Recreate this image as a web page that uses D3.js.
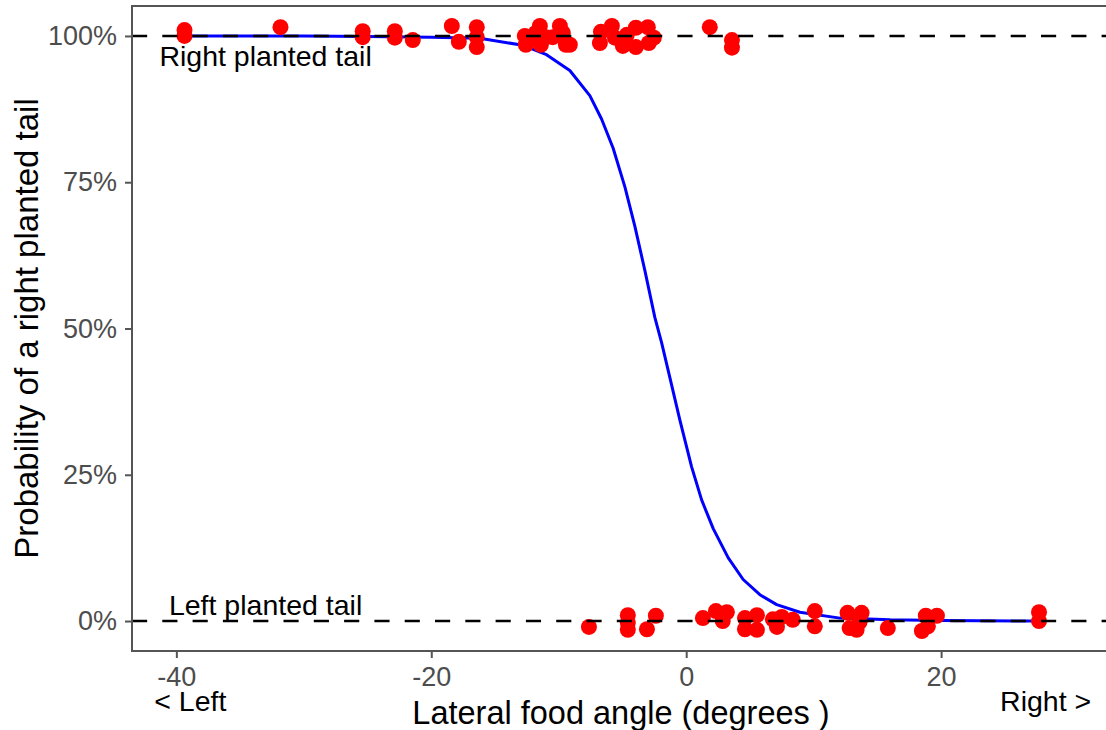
<!DOCTYPE html>
<html>
<head>
<meta charset="utf-8">
<script src="https://cdn.jsdelivr.net/npm/d3@7"></script>
<style>
  html, body { margin: 0; padding: 0; background: #fff; }
  svg { display: block; font-family: "Liberation Sans", Arial, sans-serif; }
</style>
</head>
<body>
<svg id="chart" width="1106" height="730"></svg>
<script>
// Observed turns: lateral food angle (degrees) and jittered outcome (1 = right planted tail)
const rightAngles = [-39.36, -39.36, -31.83, -25.38, -25.38, -22.86, -22.86, -21.45, -18.39, -17.84,
  -16.43, -16.43, -16.43, -12.66, -12.58, -12.19, -11.80, -11.48, -11.40, -11.01,
  -10.46, -9.91, -9.68, -9.44, -9.13, -6.77, -6.69, -5.83, -5.59, -4.97,
  -4.66, -3.95, -3.95, -3.01, -2.93, -2.54, 1.85, 3.59, 3.59];
const rightValues = [1.010, 1.000, 1.015, 1.008, 0.998, 1.008, 0.997, 0.993, 1.017, 0.990,
  1.015, 0.998, 0.981, 1.000, 0.985, 0.993, 1.005, 1.017, 0.985, 0.998,
  0.998, 1.017, 1.005, 0.985, 0.985, 0.988, 1.007, 1.017, 0.997, 0.983,
  1.002, 0.981, 1.014, 1.015, 0.988, 0.997, 1.015, 0.993, 0.980];

const leftAngles = [-7.63, -4.58, -4.58, -4.58, -3.08, -2.38, 1.31, 2.33, 3.19, 2.87,
  4.61, 4.61, 5.55, 5.55, 6.80, 7.12, 7.50, 8.36, 10.09, 10.09,
  12.66, 12.82, 13.37, 13.76, 13.60, 15.82, 18.49, 18.80, 19.67, 18.96,
  27.68, 27.68];
const leftValues = [-0.010, 0.010, -0.003, -0.015, -0.014, 0.009, 0.005, 0.017, 0.015, 0.000,
  0.005, -0.014, 0.010, -0.015, 0.003, -0.010, 0.007, 0.002, 0.017, -0.009,
  0.014, -0.012, -0.015, 0.014, -0.002, -0.012, -0.017, 0.009, 0.009, -0.009,
  0.015, 0.000];

// Fitted logistic curve (probability of a right planted tail)
const fitAngles = [-39.4, -30, -25, -20, -16.2, -12.8, -10.96, -9.13, -7.56, -6.64,
  -5.73, -4.81, -4.03, -3.24, -2.46, -1.93, -1.28, -0.49, 0.42, 1.21,
  2.12, 3.30, 4.47, 5.78, 7.10, 8.92, 12.06, 16, 20, 27.7];
const fitProbs = [1.000, 1.000, 0.999, 0.998, 0.996, 0.984, 0.968, 0.941, 0.898, 0.858,
  0.808, 0.742, 0.675, 0.599, 0.519, 0.476, 0.416, 0.343, 0.264, 0.207,
  0.158, 0.108, 0.071, 0.045, 0.028, 0.015, 0.005, 0.002, 0.001, 0.000];

const xTicks = [-40, -20, 0, 20];
const yTicks = [0, 0.25, 0.5, 0.75, 1];
const yTickLabels = ["0%", "25%", "50%", "75%", "100%"];
const refLevels = [0, 1];

const panel = { left: 132, top: 6, right: 1110, bottom: 651 };
const svg = d3.select("#chart");

const x = d3.scaleLinear().domain([-43.48, 33.25]).range([panel.left, panel.right]);
const y = d3.scaleLinear().domain([-0.0512, 1.0512]).range([panel.bottom, panel.top]);

const axisColor = "#555555";
const tickText = "#4d4d4d";

// fitted curve
const fit = fitAngles.map((a, i) => ({ a, p: fitProbs[i] }));
svg.append("path")
  .datum(fit)
  .attr("fill", "none")
  .attr("stroke", "#0000ff")
  .attr("stroke-width", 3)
  .attr("stroke-linejoin", "round")
  .attr("d", d3.line().x(d => x(d.a)).y(d => y(d.p)));

// observations
const obs = rightAngles.map((a, i) => ({ a, v: rightValues[i] }))
  .concat(leftAngles.map((a, i) => ({ a, v: leftValues[i] })));
svg.append("g").selectAll("circle")
  .data(obs)
  .join("circle")
  .attr("cx", d => x(d.a))
  .attr("cy", d => y(d.v))
  .attr("r", 8)
  .attr("fill", "#ff0000");

// reference lines at 0% and 100%
svg.append("g").selectAll("line")
  .data(refLevels)
  .join("line")
  .attr("x1", panel.left).attr("x2", panel.right)
  .attr("y1", d => y(d)).attr("y2", d => y(d))
  .attr("stroke", "#000")
  .attr("stroke-width", 2.5)
  .attr("stroke-dasharray", "15.15,15.15");

// panel border
svg.append("rect")
  .attr("x", panel.left).attr("y", panel.top)
  .attr("width", panel.right - panel.left)
  .attr("height", panel.bottom - panel.top)
  .attr("fill", "none")
  .attr("stroke", axisColor)
  .attr("stroke-width", 2);

// axes
const yAxis = svg.append("g")
  .attr("transform", `translate(${panel.left},0)`)
  .call(d3.axisLeft(y).tickValues(yTicks)
    .tickFormat((d, i) => yTickLabels[i]).tickSize(7).tickPadding(8));
const xAxis = svg.append("g")
  .attr("transform", `translate(0,${panel.bottom})`)
  .call(d3.axisBottom(x).tickValues(xTicks)
    .tickFormat(d => d < 0 ? "-" + Math.abs(d) : String(d)).tickSize(7).tickPadding(9));

[yAxis, xAxis].forEach(g => {
  g.select(".domain").remove();
  g.selectAll(".tick line").attr("stroke", axisColor).attr("stroke-width", 2);
  g.selectAll(".tick text")
    .attr("fill", tickText)
    .style("font-size", "27px")
    .style("font-family", "'Liberation Sans', Arial, sans-serif");
});

// annotations
const note = (txt, a, v) => svg.append("text")
  .attr("x", x(a)).attr("y", y(v))
  .attr("text-anchor", "middle")
  .attr("dominant-baseline", "central")
  .style("font-size", "28.5px")
  .attr("fill", "#000")
  .text(txt);

note("Right planted tail", -33.0, 0.965);
note("Left planted tail", -33.0, 0.027);

const sideLabel = (txt, a) => svg.append("text")
  .attr("x", x(a)).attr("y", 711)
  .attr("text-anchor", "middle")
  .style("font-size", "28.5px").text(txt);
sideLabel("< Left", -38.9);
sideLabel("Right >", 28.2);

// axis titles
svg.append("text")
  .attr("x", (panel.left + panel.right) / 2).attr("y", 724)
  .attr("text-anchor", "middle")
  .style("font-size", "32.5px")
  .text("Lateral food angle (degrees )");

svg.append("text")
  .attr("transform", `translate(38,${(panel.top + panel.bottom) / 2}) rotate(-90)`)
  .attr("text-anchor", "middle")
  .style("font-size", "33px")
  .text("Probability of a right planted tail");
</script>
</body>
</html>
